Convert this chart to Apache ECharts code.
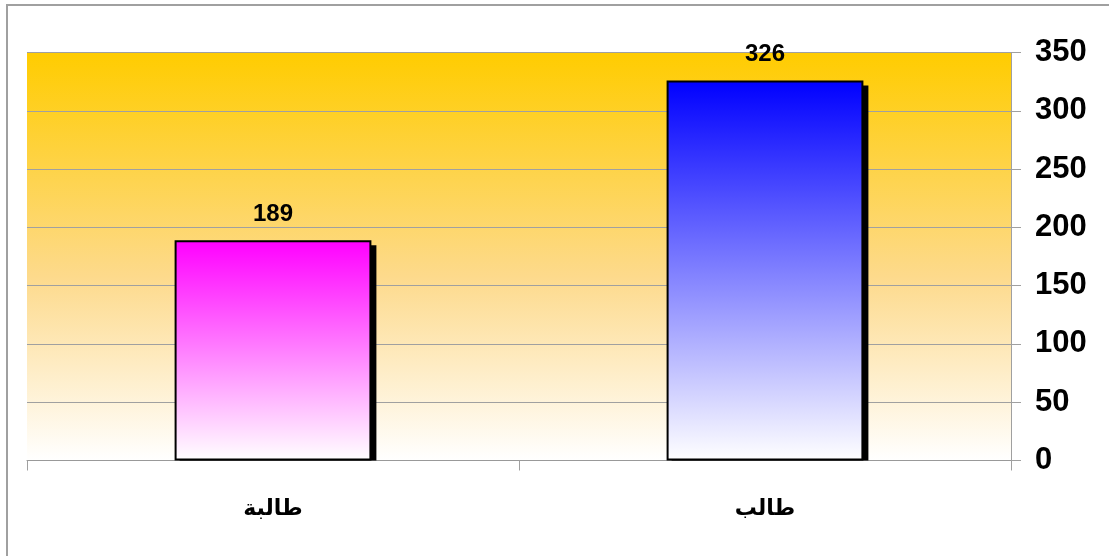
<!DOCTYPE html>
<html>
<head>
<meta charset="utf-8">
<script src="https://cdn.jsdelivr.net/npm/echarts@6/dist/echarts.min.js"></script>
<style>
  html, body { margin: 0; padding: 0; background: #fff; }
  #chart { width: 1109px; height: 556px; }
</style>
</head>
<body>
<div id="chart"></div>
<script>
// data
const categories = ["طالبة", "طالب"];
const values = [189, 326];
const yTicks = [0, 50, 100, 150, 200, 250, 300, 350];

const font = 'Arial, "Liberation Sans", "DejaVu Sans", sans-serif';
const barColors = ["#ff00ff", "#0000ff"];

const chart = echarts.init(document.getElementById("chart"));

const option = {
  backgroundColor: "#fff",
  animation: false,
  grid: {
    left: 27,
    right: 98,
    top: 52.5,
    bottom: 95.5,
    show: true,
    borderWidth: 0,
    // gold at top fading to white
    backgroundColor: new echarts.graphic.LinearGradient(0, 0, 0, 1, [
      { offset: 0, color: "#ffcc00" },
      { offset: 0.55, color: "#fdda8c" },
      { offset: 1, color: "#ffffff" }
    ])
  },
  graphic: [
    {
      type: "rect",
      shape: { x: 7, y: 5, width: 1200, height: 700 },
      style: { fill: "none", stroke: "#a0a0a0", lineWidth: 2 },
      silent: true
    }
  ],
  xAxis: {
    type: "category",
    data: categories,
    axisLine: { lineStyle: { color: "#999", width: 1 } },
    axisTick: { show: true, length: 10, lineStyle: { color: "#a0a0a0" } },
    axisLabel: {
      color: "#000",
      fontFamily: font,
      fontWeight: "bold",
      fontSize: 22,
      margin: 37
    }
  },
  yAxis: {
    type: "value",
    position: "right",
    min: yTicks[0],
    max: yTicks[yTicks.length - 1],
    interval: 50,
    axisLine: { show: true, lineStyle: { color: "#a0a0a0", width: 1 } },
    axisTick: { show: true, length: 10, lineStyle: { color: "#a0a0a0" } },
    axisLabel: {
      color: "#000",
      fontFamily: font,
      fontWeight: "bold",
      fontSize: 31,
      margin: 24,
      padding: [4, 0, 0, 0]
    },
    splitLine: { show: true, lineStyle: { color: "#a0a0a0", width: 1 } }
  },
  series: [
    {
      // black drop shadow, offset right/down, stops at the axis
      type: "custom",
      data: values.map((v, i) => [i, v]),
      z: 1,
      silent: true,
      renderItem: (params, api) => {
        const top = api.coord([api.value(0), api.value(1)]);
        const base = api.coord([api.value(0), 0]);
        const w = api.size([1, 0])[0] * 0.4;
        return {
          type: "rect",
          shape: {
            x: top[0] - w / 2 + 5,
            y: top[1] + 5,
            width: w,
            height: base[1] - top[1] - 5
          },
          style: { fill: "#000" }
        };
      }
    },
    {
      type: "bar",
      z: 2,
      barWidth: "40%",
      data: values.map((v, i) => ({
        value: v,
        itemStyle: {
          color: new echarts.graphic.LinearGradient(0, 0, 0, 1, [
            { offset: 0, color: barColors[i] },
            { offset: 1, color: "#ffffff" }
          ]),
          borderColor: "#000",
          borderWidth: 2
        }
      })),
      label: {
        show: true,
        position: "top",
        distance: 14,
        color: "#000",
        fontFamily: font,
        fontWeight: "bold",
        fontSize: 24
      }
    }
  ]
};

chart.setOption(option);
</script>
</body>
</html>
